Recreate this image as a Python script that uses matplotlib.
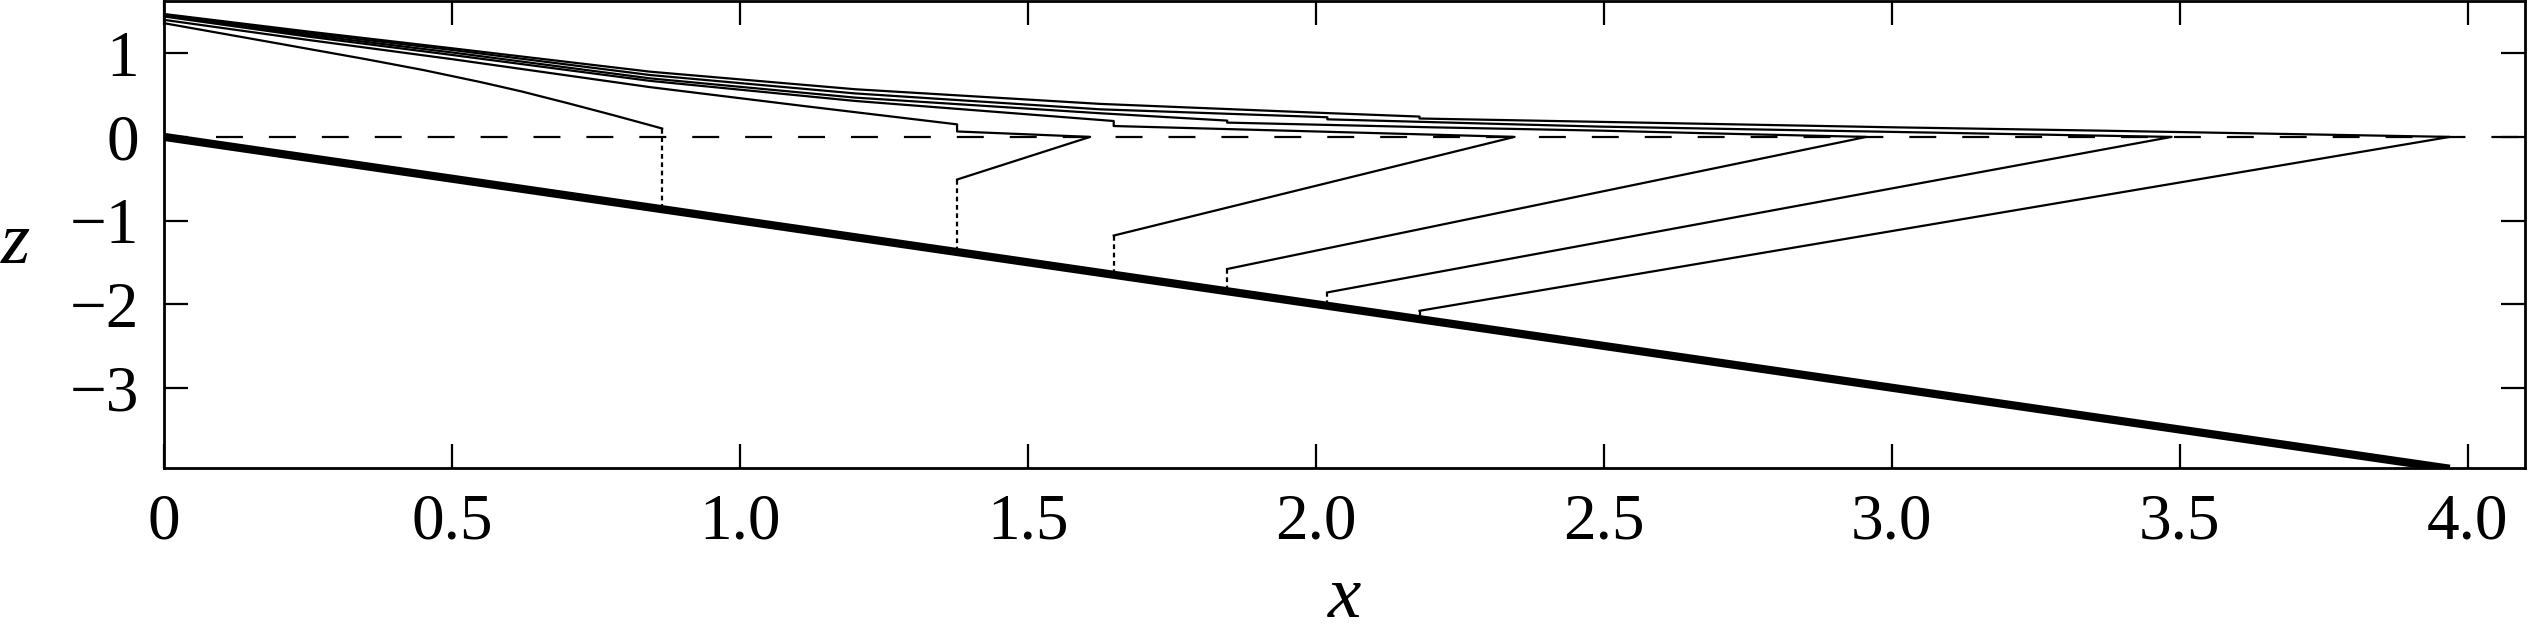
import numpy as np
import matplotlib.pyplot as plt

plt.rcParams["font.family"] = ["Liberation Serif", "DejaVu Serif"]
plt.rcParams["lines.scale_dashes"] = False

# upper branches: each ends at its apex on z = 0 (the doubled x is the small step)
c1_x = [0.0, 0.2, 0.35, 0.45, 0.55, 0.62, 0.7, 0.78, 0.844, 0.865]
c1_z = [1.36, 1.115, 0.93, 0.80, 0.655, 0.545, 0.405, 0.26, 0.14, 0.10]

c2_x = [0.0, 0.25, 0.5, 0.844, 1.11, 1.377, 1.377, 1.608]
c2_z = [1.40, 1.16, 0.93, 0.595, 0.37, 0.15, 0.065, 0.0]

c3_x = [0.0, 0.25, 0.5, 0.844, 1.2, 1.649, 1.649, 2.0, 2.345]
c3_z = [1.44, 1.20, 0.98, 0.67, 0.43, 0.19, 0.13, 0.065, 0.0]

c4_x = [0.0, 0.25, 0.5, 0.844, 1.2, 1.625, 1.846, 1.846, 2.2, 2.493, 2.724, 2.956]
c4_z = [1.45, 1.22, 1.01, 0.70, 0.47, 0.283, 0.195, 0.171, 0.115, 0.075, 0.036, 0.0]

c5_x = [0.0, 0.25, 0.5, 0.844, 1.2, 1.625, 2.02, 2.02, 2.493, 3.0, 3.36, 3.486]
c5_z = [1.46, 1.24, 1.04, 0.74, 0.52, 0.33, 0.235, 0.21, 0.123, 0.06, 0.015, 0.0]

c6_x = [0.0, 0.25, 0.5, 0.844, 1.2, 1.625, 2.0, 2.18, 2.18, 2.493, 3.0, 3.36, 3.969]
c6_z = [1.47, 1.26, 1.06, 0.78, 0.57, 0.395, 0.29, 0.243, 0.22, 0.18, 0.115, 0.075, 0.0]

# foot of each straight return line (x of the step, z where it stops)
step_x = [1.377, 1.649, 1.846, 2.02, 2.18]
back_z = [-0.51, -1.18, -1.58, -1.86, -2.08]

# thick bed line
bed_x = [0.0, 3.969]
bed_z = [0.0, -3.969]

x_ticks = [0, 0.5, 1.0, 1.5, 2.0, 2.5, 3.0, 3.5, 4.0]
x_ticklabels = ["0", "0.5", "1.0", "1.5", "2.0", "2.5", "3.0", "3.5", "4.0"]
z_ticks = [1, 0, -1, -2, -3]
z_ticklabels = ["1", "0", "\u22121", "\u22122", "\u22123"]

XLIM = (0, 4.1)
ZLIM = (-3.96, 1.62)
DASH_X0 = 0.09

THIN = 1.6
DOT = (0, (3.4, 2.6))

fig = plt.figure(figsize=(25.28, 6.33), dpi=100)
ax = fig.add_axes([0.0649, 0.2607, 0.934, 0.737])

ax.axhline(0, xmin=DASH_X0 / XLIM[1], xmax=1, color="black", lw=1.6,
           linestyle=(0, (19.4, 18.7)), zorder=1)

ax.plot(bed_x, bed_z, color="black", lw=5.9, solid_capstyle="butt", zorder=3)

ax.plot(c1_x, c1_z, color="black", lw=THIN, zorder=2)
ax.plot([c1_x[-1], c1_x[-1]], [c1_z[-1], np.interp(c1_x[-1], bed_x, bed_z)],
        color="black", lw=THIN, linestyle=DOT, zorder=2)

branches = [(c2_x, c2_z), (c3_x, c3_z), (c4_x, c4_z), (c5_x, c5_z), (c6_x, c6_z)]
for (bx, bz), xs, zb in zip(branches, step_x, back_z):
    ax.plot(bx + [xs], bz + [zb], color="black", lw=THIN, zorder=2)
    ax.plot([xs, xs], [zb, np.interp(xs, bed_x, bed_z)],
            color="black", lw=THIN, linestyle=DOT, zorder=2)

ax.set_xlim(*XLIM)
ax.set_ylim(*ZLIM)

ax.set_xticks(x_ticks)
ax.set_xticklabels(x_ticklabels)
ax.set_yticks(z_ticks)
ax.set_yticklabels(z_ticklabels)

ax.tick_params(direction="in", top=True, right=True, length=17, width=1.6,
               labelsize=47, pad=18)
for sp in ax.spines.values():
    sp.set_linewidth(2.0)

ax.set_xlabel("x", fontsize=54, fontstyle="italic", va="center")
ax.xaxis.set_label_coords(0.5, -0.281)
ax.set_ylabel("z", fontsize=54, fontstyle="italic", rotation=0,
              ha="center", va="center")
ax.yaxis.set_label_coords(-0.0631, 0.478)

fig.savefig("out.png", dpi=100)
plt.close(fig)
